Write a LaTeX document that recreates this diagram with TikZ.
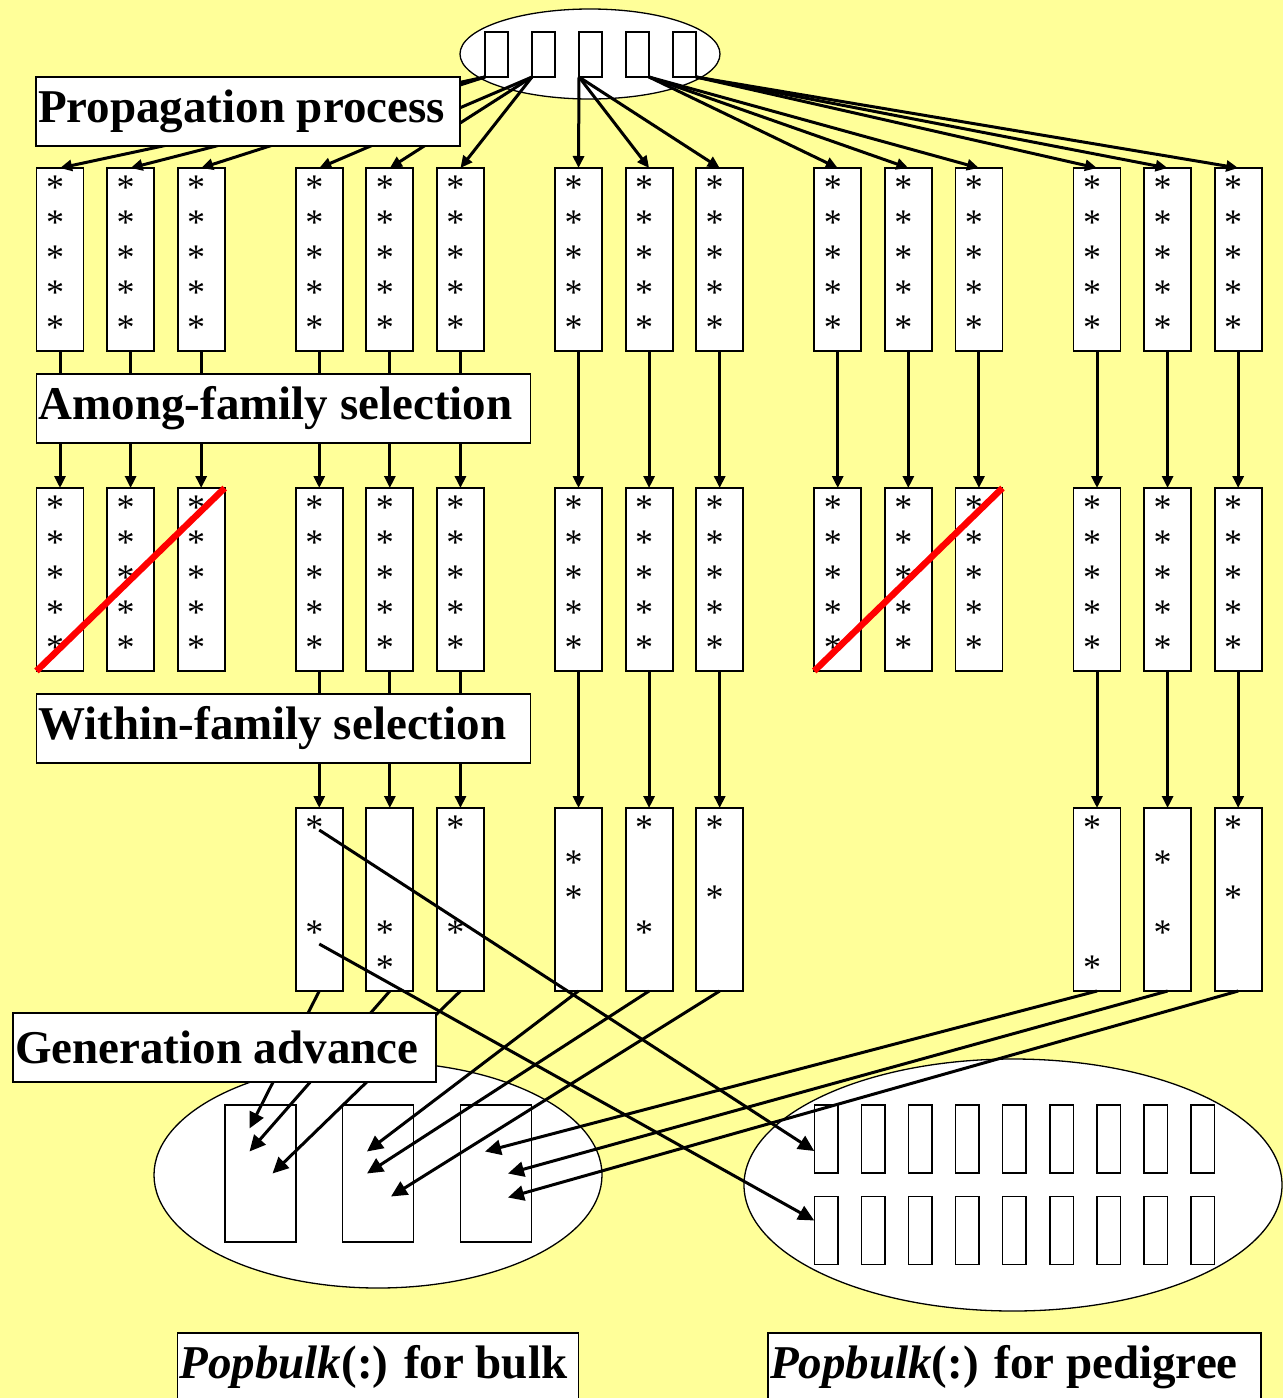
\documentclass[tikz,border=0pt]{standalone}
\usepackage{fontspec}
\setmainfont{Liberation Serif}
\usetikzlibrary{calc, positioning}
\usetikzlibrary{arrows.meta}

\definecolor{paper}{RGB}{255,255,153}

\tikzset{
  oval/.style={draw, fill=white, line width=1.3pt},
  cell/.style={draw, fill=white, line width=1.5pt, inner sep=0pt, outer sep=0pt, minimum width=23pt, minimum height=45pt},
  pcell/.style={draw, fill=white, line width=1.5pt, inner sep=0pt, outer sep=0pt, minimum width=23.5pt, minimum height=68pt},
  bulkbox/.style={draw, fill=white, line width=1.5pt, inner sep=0pt, outer sep=0pt, minimum width=71pt, minimum height=137pt},
  famcol/.style={draw, fill=white, line width=1.8pt, inner sep=0pt, outer sep=0pt, minimum width=47pt, minimum height=183pt},
  star/.style={inner sep=0pt, font=\fontsize{36}{36}\selectfont, text height=33pt, text depth=0pt},
  link/.style={line width=3pt, -{Triangle[length=12pt, width=11pt]}},
  adv/.style={line width=3pt, -{Triangle[length=16pt, width=15pt]}},
  strike/.style={red, line width=6.5pt},
  stage/.style={draw, fill=white, line width=1.5pt, anchor=north west, outer sep=0pt,
    inner xsep=2pt, inner ysep=0pt, minimum height=69pt,
    font=\fontsize{47}{56}\selectfont\bfseries}
}

\begin{document}
\begin{tikzpicture}[x=1pt, y=-1pt]
\def\W{1283}
\def\H{1398}
\def\gx{259.25}
\def\cx{70.6}

\useasboundingbox (0,0) rectangle (\W,\H);
\fill[paper] (0,0) rectangle (\W,\H);
\clip (0,0) rectangle (\W,\H);

\draw[oval] (590,54) ellipse [x radius=130, y radius=45];
\draw[oval] (378,1175) ellipse [x radius=224, y radius=113];
\draw[oval] (1013,1185) ellipse [x radius=269, y radius=126];

\foreach \i in {0,...,4}
  \node[cell] (T\i) at ({496.5+47*\i},54.5) {};

\foreach \r/\y in {1/1139, 2/1230.5}
  \foreach \i in {0,...,8}
    \node[pcell] (P-\r-\i) at ({826+47.1*\i},\y) {};

\foreach \k/\x in {0/260.5, 1/378, 2/496}
  \node[bulkbox] (K\k) at (\x,1173.5) {};

\foreach \g in {0,...,4}
  \foreach \c in {0,1,2} {
    \node[famcol] (A-\g-\c) at ({60+\gx*\g+\cx*\c},259.5) {};
    \node[famcol] (B-\g-\c) at ({60+\gx*\g+\cx*\c},579.5) {};
    \foreach \k in {0,...,4} {
      \node[star] (a-\g-\c-\k) at ({55+\gx*\g+\cx*\c},{183+35*\k}) {*};
      \node[star] (b-\g-\c-\k) at ({55+\gx*\g+\cx*\c},{503+35*\k}) {*};
    }
  }

\foreach \g in {1,2,4}
  \foreach \c in {0,1,2}
    \node[famcol] (C-\g-\c) at ({60+\gx*\g+\cx*\c},899.5) {};

\foreach \g/\c/\k in {1/0/0, 1/0/3, 1/1/3, 1/1/4, 1/2/0, 1/2/3,
                      2/0/1, 2/0/2, 2/1/0, 2/1/3, 2/2/0, 2/2/2,
                      4/0/0, 4/0/4, 4/1/1, 4/1/3, 4/2/0, 4/2/2}
  \node[star] (S-\g-\c-\k) at ({55+\gx*\g+\cx*\c},{823+35*\k}) {*};

\foreach \g/\a in {0/south west, 1/south west, 2/south west, 3/south east, 4/south east}
  \foreach \c in {0,1,2}
    \draw[link] (T\g.\a) -- (A-\g-\c.north);

\foreach \g in {0,...,4}
  \foreach \c in {0,1,2}
    \draw[link] (A-\g-\c.south) -- (B-\g-\c.north);

\foreach \g in {1,2,4}
  \foreach \c in {0,1,2}
    \draw[link] (B-\g-\c.south) -- (C-\g-\c.north);

\foreach \g/\c/\k/\dx/\dy in {1/0/0/-11/-45, 1/1/0/-11/-22, 1/2/0/12/0,
                              2/0/1/-11/-22, 2/1/1/-11/0, 2/2/1/13/23,
                              4/0/2/-11/-22, 4/1/2/12/0, 4/2/2/12/24}
  \draw[adv] (C-\g-\c.south) -- ($(K\k)+(\dx,\dy)$);

\coordinate (U) at ($(S-1-0-0)+(5,7)$);
\coordinate (V) at ($(S-1-0-3)+(5,16)$);
\draw[adv] (U) -- ($(P-1-0.west)+(0,12)$);
\draw[adv] (V) -- ($(P-2-0.west)+(0,-10)$);

\draw[strike] (B-0-0.south west) -- (B-0-2.north east);
\draw[strike] (B-3-0.south west) -- (B-3-2.north east);

\node[stage] (prop) at (36,77) {\makebox[420pt][l]{Propagation process}};
\node[stage] (among) at (36.5,374) {\makebox[490pt][l]{Among-family selection}};
\node[stage] (within) at (36.5,694) {\makebox[490pt][l]{Within-family selection}};
\node[stage] (gen) at (13,1013) {\makebox[419pt][l]{Generation advance}};
\node[stage, minimum height=68pt] (bulk) at (177.5,1333) {\makebox[397pt][l]{\textit{Popbulk}(:) for bulk}};
\node[stage, minimum height=68pt] (ped) at (768,1333) {\makebox[489pt][l]{\textit{Popbulk}(:) for pedigree}};
\end{tikzpicture}
\end{document}
